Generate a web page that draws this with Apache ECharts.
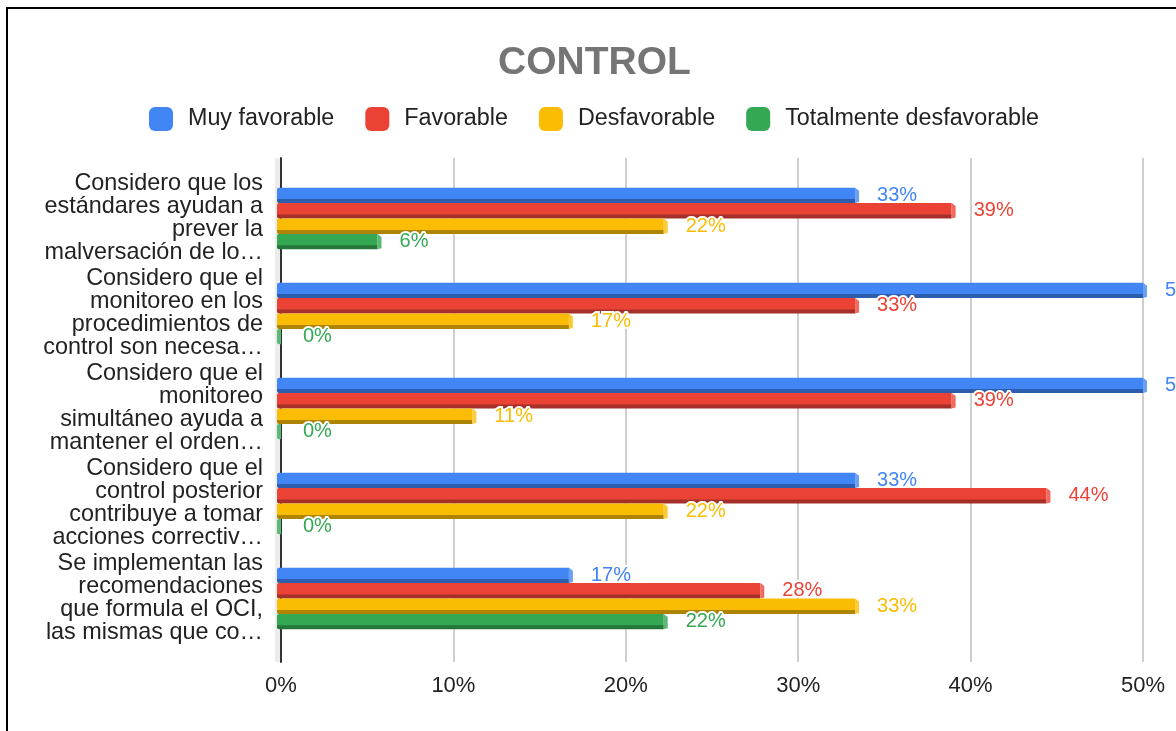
<!DOCTYPE html>
<html>
<head>
<meta charset="utf-8">
<script src="https://cdn.jsdelivr.net/npm/echarts@6/dist/echarts.min.js"></script>
<style>
  html, body { margin: 0; padding: 0; background: #fff; }
  #chart { width: 1176px; height: 731px; }
</style>
</head>
<body>
<div id="chart"></div>
<script>
// categorias (texto tal como se ve, recortado)
var categories = [
  'Considero que los\nestándares ayudan a\nprever la\nmalversación de lo…',
  'Considero que el\nmonitoreo en los\nprocedimientos de\ncontrol son necesa…',
  'Considero que el\nmonitoreo\nsimultáneo ayuda a\nmantener el orden…',
  'Considero que el\ncontrol posterior\ncontribuye a tomar\nacciones correctiv…',
  'Se implementan las\nrecomendaciones\nque formula el OCI,\nlas mismas que co…'
]
var seriesNames = ['Muy favorable', 'Favorable', 'Desfavorable', 'Totalmente desfavorable']
var muyFavorable = [33.3, 50, 50, 33.3, 16.7]
var favorable = [38.9, 33.3, 38.9, 44.4, 27.8]
var desfavorable = [22.2, 16.7, 11.1, 22.2, 33.3]
var totalmenteDesfavorable = [5.6, 0, 0, 0, 22.2]
var xTicks = [0, 10, 20, 30, 40, 50]

var colors = ['#4285f4', '#ea4335', '#fbbc04', '#34a853']
var darkColors = ['#2d5eae', '#a5302a', '#b08403', '#24773b']
var lightColors = ['#6c9ff6', '#ef6a5f', '#fcca3a', '#5cb975']

var font = "'Liberation Sans', Arial, sans-serif"

var dom = document.getElementById('chart')
var myChart = echarts.init(dom)

function renderBar(params, api) {
  var i = params.seriesIndex
  var val = api.value(0)
  var j = api.value(1)
  var start = api.coord([0, j])
  var end = api.coord([val, j])
  var band = api.size([0, 1])[1]
  var h = band * 0.162
  var d = 4
  var top = start[1] - 2 * h + i * h
  var x0 = start[0] - d
  var x1 = end[0]
  var bev = val > 0 ? d : 0
  return {
    type: 'group',
    children: [
      {
        type: 'rect',
        shape: { x: x0, y: top, width: x1 - x0, height: h - d + 1, r: [2, 0, 0, 0] },
        style: { fill: val > 0 ? colors[i] : lightColors[i] }
      },
      {
        type: 'rect',
        shape: { x: x0, y: top + h - d, width: x1 - x0, height: d, r: [0, 0, 0, 2] },
        style: { fill: val > 0 ? darkColors[i] : lightColors[i] }
      },
      {
        type: 'polygon',
        shape: { points: [[x1, top], [x1 + bev, top + 3], [x1 + bev, top + h - 1], [x1, top + h]] },
        style: { fill: lightColors[i] }
      },
      {
        type: 'text',
        z2: 10,
        style: {
          text: Math.round(val) + '%',
          x: x1 + d + 18,
          y: top + h / 2,
          fill: colors[i],
          stroke: '#fff',
          lineWidth: 4,
          font: '20px ' + font,
          align: 'left',
          verticalAlign: 'middle'
        }
      }
    ]
  }
}

function makeSeries(idx, values) {
  return {
    name: seriesNames[idx],
    type: 'custom',
    xAxisIndex: 0,
    yAxisIndex: 0,
    renderItem: renderBar,
    itemStyle: { color: colors[idx] },
    encode: { x: 0, y: 1 },
    data: values.map(function (v, k) { return [v, k] })
  }
}

option = {
  backgroundColor: '#fff',
  animation: false,
  title: {
    text: 'CONTROL',
    left: 493,
    top: 39,
    textStyle: {
      fontFamily: font,
      fontWeight: 'bold',
      fontSize: 39,
      color: '#757575'
    }
  },
  legend: {
    left: 144,
    top: 102,
    icon: 'roundRect',
    itemWidth: 24,
    itemHeight: 24,
    itemGap: 31,
    data: seriesNames,
    textStyle: {
      fontFamily: font,
      fontSize: 23.3,
      color: '#222',
      padding: [0, 0, 0, 10]
    }
  },
  grid: [
    { left: 281, right: 33, top: 171, bottom: 85 },
    { left: 281, right: 33, top: 158, bottom: 69 }
  ],
  xAxis: [
    {
      gridIndex: 0,
      type: 'value',
      min: xTicks[0],
      max: xTicks[xTicks.length - 1],
      show: false
    },
    {
      gridIndex: 1,
      type: 'value',
      min: xTicks[0],
      max: xTicks[xTicks.length - 1],
      interval: 10,
      axisLine: { show: false },
      axisTick: { show: false },
      splitLine: { show: true, lineStyle: { color: '#cfcfcf', width: 2 } },
      axisLabel: {
        margin: 13,
        fontFamily: font,
        fontSize: 22,
        color: '#222',
        formatter: '{value}%'
      }
    }
  ],
  yAxis: [
    {
      gridIndex: 0,
      type: 'category',
      inverse: true,
      data: categories,
      axisLine: { show: false },
      axisTick: { show: false },
      axisLabel: {
        margin: 18,
        fontFamily: font,
        fontSize: 23.4,
        lineHeight: 23,
        color: '#222',
        align: 'right'
      }
    },
    {
      gridIndex: 1,
      type: 'value',
      axisLine: { show: true, lineStyle: { color: '#333', width: 2 } },
      axisTick: { show: false },
      axisLabel: { show: false },
      splitLine: { show: false }
    }
  ],
  graphic: [
    {
      type: 'rect',
      z: 0,
      shape: { x: 275, y: 158, width: 5, height: 504 },
      style: { fill: '#ececec' }
    },
    {
      type: 'rect',
      z: 100,
      shape: { x: 7, y: 8, width: 1300, height: 900 },
      style: { fill: 'none', stroke: '#000', lineWidth: 2 }
    }
  ],
  series: [
    makeSeries(0, muyFavorable),
    makeSeries(1, favorable),
    makeSeries(2, desfavorable),
    makeSeries(3, totalmenteDesfavorable)
  ]
}
if (option && typeof option === 'object') {
  myChart.setOption(option, true)
}
</script>
</body>
</html>
